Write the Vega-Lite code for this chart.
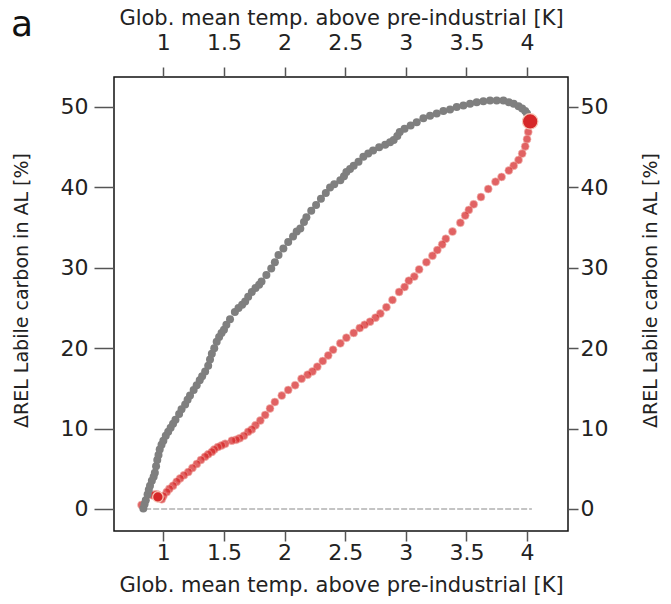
{
  "$schema": "https://vega.github.io/schema/vega-lite/v6.json",
  "width": 454,
  "height": 454,
  "autosize": {"type": "none"},
  "padding": {"left": 114, "top": 77, "right": 103, "bottom": 73},
  "background": "white",
  "config": {
    "font": "DejaVu Sans",
    "view": {"stroke": "#111", "strokeWidth": 1.5},
    "axis": {
      "grid": false,
      "domain": false,
      "tickColor": "#555",
      "tickWidth": 1.5,
      "tickSize": 10,
      "labelFont": "DejaVu Sans",
      "titleFont": "DejaVu Sans",
      "labelFontSize": 22,
      "titleFontSize": 21,
      "labelColor": "#222",
      "titleColor": "#222",
      "titleFontWeight": "normal",
      "labelPadding": 4
    }
  },
  "title": {
    "text": "a",
    "anchor": "start",
    "frame": "group",
    "fontSize": 36,
    "fontWeight": "normal",
    "font": "DejaVu Sans",
    "color": "#111",
    "dx": -103,
    "dy": 41
  },
  "datasets": {
    "warming": [
      {"T": 0.835, "V": 0.05}, {"T": 0.845, "V": 0.6}, {"T": 0.855, "V": 1.1}, {"T": 0.87, "V": 1.8},
      {"T": 0.88, "V": 2.4}, {"T": 0.89, "V": 2.9}, {"T": 0.905, "V": 3.5}, {"T": 0.92, "V": 4.0},
      {"T": 0.93, "V": 4.5}, {"T": 0.94, "V": 5.3}, {"T": 0.95, "V": 6.1}, {"T": 0.96, "V": 6.7},
      {"T": 0.97, "V": 7.4}, {"T": 0.985, "V": 8.0}, {"T": 1.0, "V": 8.5}, {"T": 1.02, "V": 9.1},
      {"T": 1.04, "V": 9.6}, {"T": 1.06, "V": 10.1}, {"T": 1.08, "V": 10.6}, {"T": 1.1, "V": 11.1},
      {"T": 1.13, "V": 11.8}, {"T": 1.15, "V": 12.4}, {"T": 1.18, "V": 13.0}, {"T": 1.2, "V": 13.6},
      {"T": 1.22, "V": 14.1}, {"T": 1.25, "V": 14.8}, {"T": 1.275, "V": 15.4}, {"T": 1.3, "V": 16.0},
      {"T": 1.32, "V": 16.5}, {"T": 1.345, "V": 17.1}, {"T": 1.37, "V": 17.8}, {"T": 1.385, "V": 18.6},
      {"T": 1.4, "V": 19.3}, {"T": 1.42, "V": 20.0}, {"T": 1.44, "V": 20.8}, {"T": 1.46, "V": 21.4},
      {"T": 1.48, "V": 21.9}, {"T": 1.5, "V": 22.3}, {"T": 1.52, "V": 22.9}, {"T": 1.55, "V": 23.6},
      {"T": 1.59, "V": 24.5}, {"T": 1.62, "V": 25.0}, {"T": 1.65, "V": 25.4}, {"T": 1.675, "V": 25.8},
      {"T": 1.7, "V": 26.4}, {"T": 1.73, "V": 27.0}, {"T": 1.76, "V": 27.5}, {"T": 1.79, "V": 27.9},
      {"T": 1.81, "V": 28.3}, {"T": 1.85, "V": 29.1}, {"T": 1.89, "V": 29.9}, {"T": 1.92, "V": 30.7},
      {"T": 1.95, "V": 31.6}, {"T": 1.99, "V": 32.4}, {"T": 2.03, "V": 33.2}, {"T": 2.07, "V": 33.9},
      {"T": 2.1, "V": 34.5}, {"T": 2.13, "V": 34.9}, {"T": 2.16, "V": 35.7}, {"T": 2.18, "V": 36.3},
      {"T": 2.22, "V": 37.1}, {"T": 2.26, "V": 37.8}, {"T": 2.3, "V": 38.6}, {"T": 2.34, "V": 39.3},
      {"T": 2.375, "V": 40.0}, {"T": 2.41, "V": 40.4}, {"T": 2.46, "V": 40.9}, {"T": 2.49, "V": 41.4},
      {"T": 2.51, "V": 41.9}, {"T": 2.54, "V": 42.3}, {"T": 2.57, "V": 42.7}, {"T": 2.61, "V": 43.2},
      {"T": 2.65, "V": 43.8}, {"T": 2.69, "V": 44.2}, {"T": 2.73, "V": 44.6}, {"T": 2.78, "V": 45.0},
      {"T": 2.83, "V": 45.3}, {"T": 2.87, "V": 45.6}, {"T": 2.9, "V": 45.9}, {"T": 2.93, "V": 46.4},
      {"T": 2.95, "V": 46.9}, {"T": 2.99, "V": 47.3}, {"T": 3.04, "V": 47.7}, {"T": 3.09, "V": 48.1},
      {"T": 3.145, "V": 48.6}, {"T": 3.2, "V": 48.9}, {"T": 3.255, "V": 49.2}, {"T": 3.31, "V": 49.5},
      {"T": 3.365, "V": 49.7}, {"T": 3.42, "V": 50.0}, {"T": 3.475, "V": 50.2}, {"T": 3.53, "V": 50.4},
      {"T": 3.585, "V": 50.6}, {"T": 3.64, "V": 50.7}, {"T": 3.695, "V": 50.8}, {"T": 3.75, "V": 50.8},
      {"T": 3.805, "V": 50.8}, {"T": 3.85, "V": 50.6}, {"T": 3.89, "V": 50.4}, {"T": 3.93, "V": 50.1},
      {"T": 3.96, "V": 49.8}, {"T": 3.985, "V": 49.5}, {"T": 4.0, "V": 49.2}
    ],
    "cooling": [
      {"T": 4.01, "V": 46.9}, {"T": 4.0, "V": 46.0}, {"T": 3.985, "V": 45.1}, {"T": 3.96, "V": 44.2},
      {"T": 3.93, "V": 43.4}, {"T": 3.89, "V": 42.7}, {"T": 3.85, "V": 42.1}, {"T": 3.79, "V": 41.3},
      {"T": 3.74, "V": 40.7}, {"T": 3.68, "V": 39.8}, {"T": 3.62, "V": 38.8}, {"T": 3.56, "V": 37.9},
      {"T": 3.52, "V": 37.2}, {"T": 3.49, "V": 36.5}, {"T": 3.45, "V": 35.6}, {"T": 3.385, "V": 34.5},
      {"T": 3.33, "V": 33.6}, {"T": 3.3, "V": 32.9}, {"T": 3.26, "V": 32.2}, {"T": 3.22, "V": 31.5},
      {"T": 3.17, "V": 30.7}, {"T": 3.11, "V": 29.8}, {"T": 3.07, "V": 28.9}, {"T": 3.025, "V": 28.4},
      {"T": 2.99, "V": 27.6}, {"T": 2.945, "V": 27.0}, {"T": 2.89, "V": 26.0}, {"T": 2.84, "V": 25.1},
      {"T": 2.79, "V": 24.3}, {"T": 2.75, "V": 23.8}, {"T": 2.705, "V": 23.3}, {"T": 2.66, "V": 22.9},
      {"T": 2.62, "V": 22.5}, {"T": 2.57, "V": 21.9}, {"T": 2.51, "V": 21.3}, {"T": 2.46, "V": 20.6},
      {"T": 2.4, "V": 19.8}, {"T": 2.36, "V": 19.1}, {"T": 2.315, "V": 18.4}, {"T": 2.27, "V": 17.7},
      {"T": 2.23, "V": 17.1}, {"T": 2.19, "V": 16.7}, {"T": 2.14, "V": 16.2}, {"T": 2.087, "V": 15.4},
      {"T": 2.03, "V": 14.8}, {"T": 1.977, "V": 14.1}, {"T": 1.92, "V": 13.3}, {"T": 1.88, "V": 12.5},
      {"T": 1.84, "V": 11.7}, {"T": 1.8, "V": 11.0}, {"T": 1.76, "V": 10.4}, {"T": 1.73, "V": 9.9},
      {"T": 1.7, "V": 9.6}, {"T": 1.665, "V": 9.1}, {"T": 1.63, "V": 8.8}, {"T": 1.6, "V": 8.6},
      {"T": 1.565, "V": 8.5}, {"T": 1.51, "V": 8.1}, {"T": 1.48, "V": 7.9}, {"T": 1.45, "V": 7.7},
      {"T": 1.42, "V": 7.4}, {"T": 1.4, "V": 7.1}, {"T": 1.37, "V": 6.8}, {"T": 1.344, "V": 6.5},
      {"T": 1.31, "V": 6.1}, {"T": 1.276, "V": 5.6}, {"T": 1.24, "V": 5.1}, {"T": 1.206, "V": 4.6},
      {"T": 1.17, "V": 4.2}, {"T": 1.138, "V": 3.8}, {"T": 1.11, "V": 3.4}, {"T": 1.08, "V": 2.9},
      {"T": 1.05, "V": 2.5}, {"T": 1.028, "V": 2.1}, {"T": 1.0, "V": 1.6}, {"T": 0.987, "V": 1.2},
      {"T": 0.97, "V": 1.5}, {"T": 0.95, "V": 1.8}, {"T": 0.93, "V": 1.8}, {"T": 0.91, "V": 1.7},
      {"T": 0.82, "V": 0.5}
    ],
    "markers": [
      {"T": 4.026, "V": 48.2, "kind": "peak"},
      {"T": 0.955, "V": 1.5, "kind": "end"}
    ],
    "baseline": [
      {"T": 0.85, "T2": 4.04, "V": 0}
    ]
  },
  "layer": [
    {
      "data": {"name": "baseline"},
      "mark": {"type": "rule", "color": "#c4c4c4", "strokeWidth": 2, "strokeDash": [6, 2]},
      "encoding": {
        "x": {"field": "T", "type": "quantitative", "scale": {"domain": [0.593, 4.338], "nice": false, "zero": false}, "axis": null},
        "x2": {"field": "T2"},
        "y": {"field": "V", "type": "quantitative", "scale": {"domain": [-2.74, 53.73], "nice": false, "zero": false}, "axis": null}
      }
    },
    {
      "data": {"name": "cooling"},
      "mark": {"type": "circle", "size": 64, "color": "#d62728", "opacity": 0.72, "stroke": "#f2b0a8", "strokeWidth": 0.6},
      "encoding": {
        "x": {"field": "T", "type": "quantitative", "axis": {"orient": "top", "values": [1, 1.5, 2, 2.5, 3, 3.5, 4], "format": "~g", "title": "Glob. mean temp. above pre-industrial [K]", "tickSize": 10, "labelPadding": 13, "titlePadding": 3}},
        "y": {"field": "V", "type": "quantitative", "axis": {"orient": "right", "values": [0, 10, 20, 30, 40, 50], "title": "ΔREL Labile carbon in AL [%]", "titleFontSize": 19, "titleAngle": 270, "titleBaseline": "top", "titleY": 213, "tickSize": 10, "labelPadding": 2, "titlePadding": 34}}
      }
    },
    {
      "data": {"name": "warming"},
      "mark": {"type": "circle", "size": 64, "color": "#7f7f7f", "opacity": 1},
      "encoding": {
        "x": {"field": "T", "type": "quantitative", "axis": {"orient": "bottom", "values": [1, 1.5, 2, 2.5, 3, 3.5, 4], "format": "~g", "title": "Glob. mean temp. above pre-industrial [K]", "tickSize": 10, "labelPadding": 1, "titlePadding": 11}},
        "y": {"field": "V", "type": "quantitative", "axis": {"orient": "left", "values": [0, 10, 20, 30, 40, 50], "title": "ΔREL Labile carbon in AL [%]", "titleFontSize": 19, "titleY": 213, "tickSize": 20, "labelPadding": 6, "titlePadding": 29}}
      }
    },
    {
      "data": {"name": "markers"},
      "mark": {"type": "circle", "color": "#d62728", "opacity": 1, "stroke": "#f6c8b8", "strokeWidth": 1.2},
      "encoding": {
        "x": {"field": "T", "type": "quantitative", "axis": null},
        "y": {"field": "V", "type": "quantitative", "axis": null},
        "size": {"field": "kind", "type": "nominal", "scale": {"domain": ["peak", "end"], "range": [240, 110]}, "legend": null}
      }
    }
  ],
  "resolve": {"axis": {"x": "independent", "y": "independent"}}
}
